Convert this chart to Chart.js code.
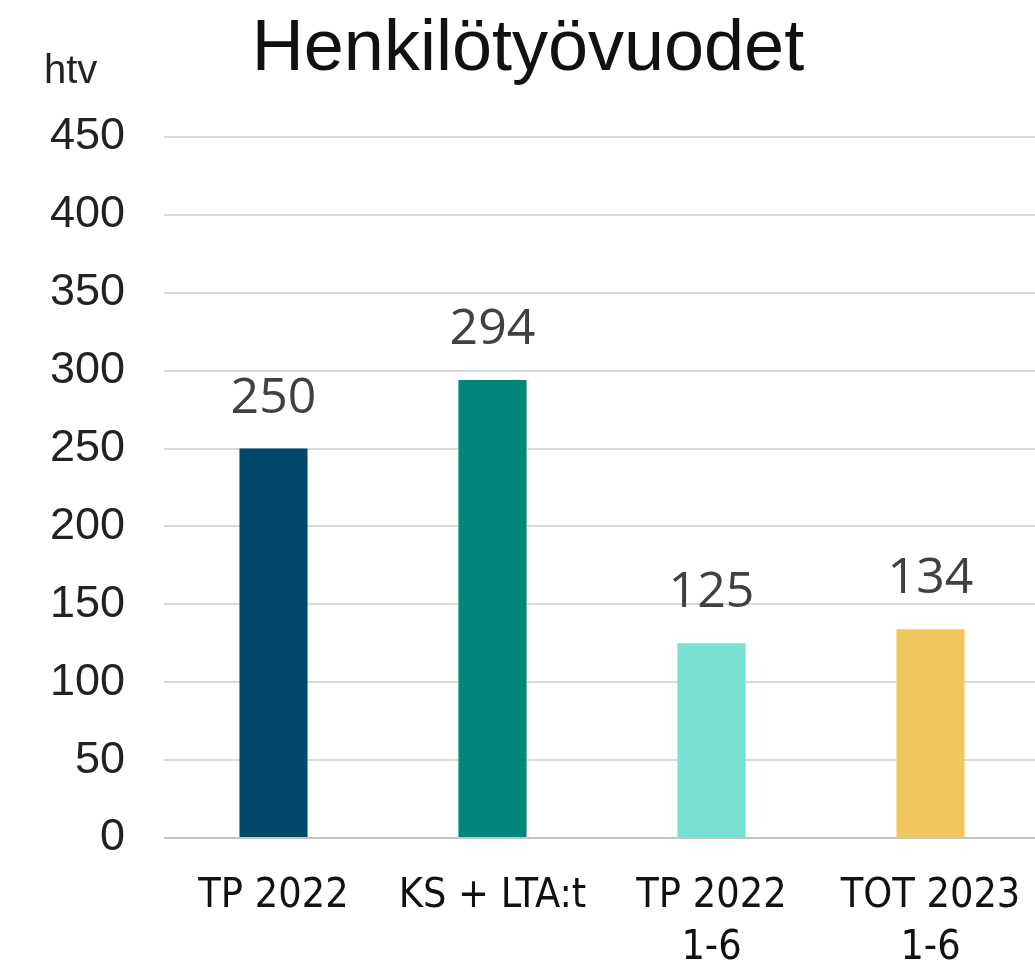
<!DOCTYPE html>
<html>
<head>
<meta charset="utf-8">
<script src="https://cdn.jsdelivr.net/npm/chart.js@4"></script>
<style>
  html, body { margin: 0; padding: 0; background: #fff; overflow: hidden; }
  #wrap { width: 1040px; height: 970px; }
</style>
</head>
<body>
<div id="wrap"><canvas id="htvChart" width="1040" height="970"></canvas></div>
<script>
// --- Data ---
const categories = ['TP 2022', 'KS + LTA:t', ['TP 2022', '1-6'], ['TOT 2023', '1-6']];
const values = [250, 294, 125, 134];
const barColors = ['#00496b', '#00877a', '#79dfd1', '#f1c65c'];
const yTicks = [0, 50, 100, 150, 200, 250, 300, 350, 400, 450];
const chartTitle = 'Henkilötyövuodet';
const unitLabel = 'htv';

// --- Plugins: title, unit label, value labels ---
const textPlugin = {
    id: 'textPlugin',
    afterDraw(chart) {
        const ctx = chart.ctx;
        ctx.save();

        // Title
        ctx.fillStyle = '#111';
        ctx.font = '72px "Liberation Sans", Arial, sans-serif';
        ctx.textAlign = 'center';
        ctx.textBaseline = 'alphabetic';
        ctx.fillText(chartTitle, 528, 70);

        // Unit label
        ctx.font = '40px "Liberation Sans", Arial, sans-serif';
        ctx.textAlign = 'left';
        ctx.fillStyle = '#222';
        ctx.fillText(unitLabel, 44, 83);

        // Value labels above bars
        const meta = chart.getDatasetMeta(0);
        ctx.font = '50px "Open Sans", sans-serif';
        ctx.fillStyle = '#404040';
        ctx.textAlign = 'center';
        meta.data.forEach((bar, i) => {
            ctx.fillText(String(values[i]), bar.x, bar.y - 36);
        });
        ctx.restore();
    }
};

new Chart(document.getElementById('htvChart'), {
    type: 'bar',
    data: {
        labels: categories,
        datasets: [{
            data: values,
            backgroundColor: barColors,
            categoryPercentage: 1,
            barPercentage: 0.311
        }]
    },
    options: {
        responsive: false,
        animation: false,
        layout: { padding: { top: 137, left: 50, right: 0, bottom: 0 } },
        plugins: {
            legend: { display: false },
            title: { display: false },
            tooltip: { enabled: false }
        },
        scales: {
            x: {
                afterFit(scale) {
                    scale.height = 132;
                    scale.paddingLeft = 0;
                    scale.paddingRight = 0;
                },
                grid: { display: false, drawTicks: false },
                border: { display: false },
                ticks: {
                    color: '#111',
                    padding: 33,
                    maxRotation: 0,
                    autoSkip: false,
                    font: {
                        family: '"Liberation Sans Narrow", "DejaVu Sans Condensed", "Liberation Sans", sans-serif',
                        weight: 'normal condensed',
                        size: 41,
                        lineHeight: 1.25
                    }
                }
            },
            y: {
                min: 0,
                max: 450,
                afterFit(scale) { scale.width = 114; },
                afterBuildTicks(scale) { scale.ticks = yTicks.map(v => ({ value: v })); },
                grid: {
                    drawTicks: false,
                    lineWidth: 2,
                    color: ctx => ctx.tick && ctx.tick.value === 0 ? '#c4c4c4' : '#d9d9d9'
                },
                border: { display: false },
                ticks: {
                    color: '#222',
                    padding: 39,
                    font: { family: '"Liberation Sans", Arial, sans-serif', size: 45 }
                }
            }
        }
    },
    plugins: [textPlugin]
});
</script>
</body>
</html>
